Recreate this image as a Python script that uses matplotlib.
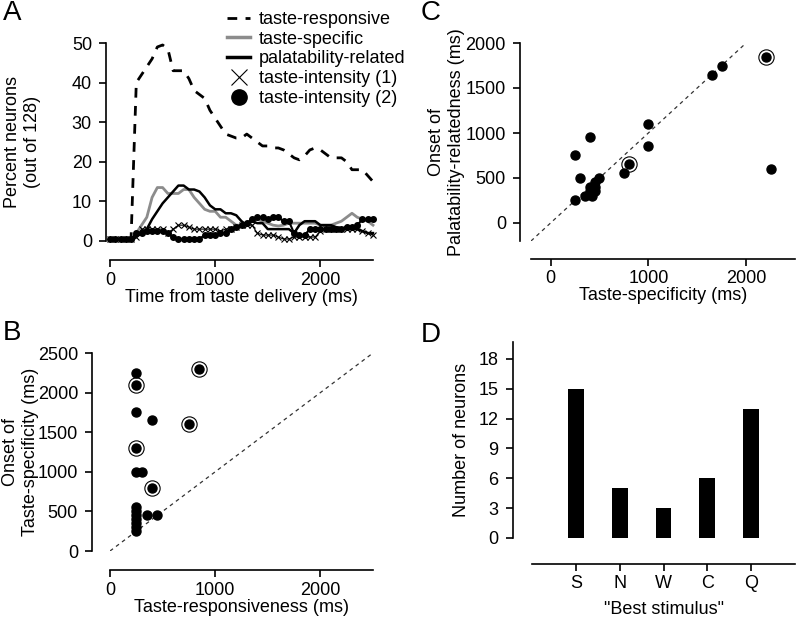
import matplotlib
matplotlib.use('Agg')
import matplotlib.pyplot as plt
from matplotlib.lines import Line2D

plt.rcParams['font.family'] = ['Liberation Sans', 'DejaVu Sans']
plt.rcParams['font.size'] = 13

# ---- panel A: time courses (50 ms bins) ----
t = list(range(0, 2550, 50))
responsive = [0.5, 0.5, 0.5, 0.5, 0.5, 40, 42, 44, 46, 49, 49.5, 48.5, 43, 43, 43, 41, 38, 37,
              36, 33, 31, 29, 27, 26.5, 26, 26, 27, 26, 25, 24, 24, 23.5, 23.5, 23, 22, 21,
              20.5, 21.5, 23, 23.5, 23, 22, 21, 21, 21, 20, 18, 18, 18, 16.5, 15]
specific = [0.5, 0.5, 0.5, 0.5, 0.5, 2, 4, 6, 11, 13.5, 13.5, 12, 12, 12, 13, 13, 11, 9.5,
            8, 7.5, 7.5, 6, 6, 5, 4, 4, 4.5, 5, 5.5, 5, 4.5, 4, 3.8, 4, 4.5, 4.5,
            4.5, 4.5, 4.5, 4.5, 4, 4, 4, 4.5, 5, 6, 7, 6, 5.5, 5, 4]
palatable = [0.5, 0.5, 0.5, 0.5, 0.5, 1, 2, 3, 5.5, 7.5, 9.5, 11, 12.5, 14, 14, 13, 13, 12.5,
             11, 9, 8, 8, 7, 7, 6.5, 5, 4, 5, 4.5, 4.5, 3, 3, 3, 3, 3, 2,
             4, 5, 5, 5, 4, 4, 4, 3.5, 3, 3, 3, 3, 2.5, 2, 2]
intensity1 = [0.5, 0.5, 0.5, 0.5, 0.5, 1, 3, 3, 3, 3, 3, 2, 3, 4, 4, 3.5, 3, 3,
              3, 3, 3, 2.5, 3, 3, 3.5, 4, 4, 4, 2, 1.5, 1.5, 1.5, 1, 0.5, 0.5, 1,
              1, 1, 1, 1, 2.5, 3, 3, 3, 3, 3, 3, 3, 2.5, 2, 1.5]
intensity2 = [0.5, 0.5, 0.5, 0.5, 0.5, 2, 2, 2.5, 2.5, 2.5, 2.5, 2, 1, 0.5, 0.5, 0.5, 0.5, 0.5,
              1.5, 1.5, 1.5, 2, 2, 3, 3.5, 4, 4.5, 5.5, 6, 6, 5.5, 6, 6, 5, 5, 2,
              1.5, 1.5, 3, 3, 3, 3, 3, 3, 3, 3.5, 3.5, 4, 5.5, 5.5, 5.5]

# ---- panel B: taste-responsiveness vs taste-specificity onsets (ms) ----
b_x = [250, 250, 250, 250, 250, 250, 250, 250, 250, 250, 300, 350, 450, 400]
b_y = [2250, 1750, 1000, 500, 450, 400, 350, 300, 250, 550, 1000, 450, 450, 1650]
b_ring_x = [250, 850, 750, 250, 400]
b_ring_y = [2100, 2300, 1600, 1300, 800]

# ---- panel C: taste-specificity vs palatability-relatedness onsets (ms) ----
c_x = [1750, 1650, 1000, 400, 1000, 250, 750, 2250, 300, 500, 450, 400, 450, 350, 420, 250, 450, 400]
c_y = [1750, 1650, 1100, 950, 850, 750, 550, 600, 500, 500, 450, 400, 350, 300, 300, 250, 400, 350]
c_ring_x = [2200, 800]
c_ring_y = [1850, 650]

# ---- panel D: best stimulus counts ----
stimuli = ['S', 'N', 'W', 'C', 'Q']
counts = [15, 5, 3, 6, 13]

W, H = 800, 621
fig = plt.figure(figsize=(W / 100, H / 100), dpi=100)


def add_ax(x0, x1, ytop, ybot):
    return fig.add_axes([x0 / W, 1 - ybot / H, (x1 - x0) / W, (ybot - ytop) / H])


def style(ax, left_off, bottom_off, ylab_x):
    ax.spines['top'].set_visible(False)
    ax.spines['right'].set_visible(False)
    ax.spines['left'].set_position(('outward', left_off))
    ax.spines['bottom'].set_position(('outward', bottom_off))
    for s in ('left', 'bottom'):
        ax.spines[s].set_linewidth(1.2)
    ax.tick_params(width=1.2, length=5, labelsize=13)
    ax.tick_params(axis='x', pad=3)
    ax.tick_params(axis='y', pad=5)
    ax.patch.set_visible(False)
    pos = ax.get_position()
    ax.yaxis.set_label_coords(ylab_x / W, (pos.y0 + pos.y1) / 2, transform=fig.transFigure)


# panel A
axA = add_ax(110, 373, 43, 241)
axA.plot(t, responsive, color='k', lw=2, ls=(0, (3.5, 3)), clip_on=False)
axA.plot(t, specific, color='#8c8c8c', lw=2, clip_on=False)
axA.plot(t, palatable, color='k', lw=1.8, clip_on=False)
axA.plot(t, intensity1, color='k', lw=0.8, marker='x', ms=4, mew=0.8, clip_on=False)
axA.plot(t, intensity2, color='k', lw=1.5, marker='o', ms=4, clip_on=False)
axA.set_xlim(0, 2500)
axA.set_ylim(0, 50)
axA.set_xticks([0, 1000, 2000])
axA.set_yticks([0, 10, 20, 30, 40, 50])
axA.set_xlabel('Time from taste delivery (ms)', labelpad=0)
axA.set_ylabel('Percent neurons\n(out of 128)', linespacing=1.25)
style(axA, 3, 14, 41)

handles = [
    Line2D([], [], color='k', lw=2, ls=(0, (3.5, 3))),
    Line2D([], [], color='#8c8c8c', lw=2.5),
    Line2D([], [], color='k', lw=2.5),
    Line2D([], [], color='k', ls='none', marker='x', ms=11, mew=0.8),
    Line2D([], [], color='k', ls='none', marker='o', ms=11),
]
labels = ['taste-responsive', 'taste-specific', 'palatability-related',
          'taste-intensity (1)', 'taste-intensity (2)']
fig.legend(handles, labels, loc='upper left', bbox_to_anchor=(227 / W, 1 - 11 / H),
           frameon=False, handlelength=1.3, handletextpad=0.45, labelspacing=0.15,
           borderpad=0, borderaxespad=0, fontsize=13)

# panel B
axB = add_ax(110, 373, 353, 551)
axB.plot([0, 2500], [0, 2500], color='#333333', lw=0.9, ls=(0, (3, 3)))
axB.plot(b_ring_x, b_ring_y, ls='none', marker='o', ms=11, mfc='none', mec='k', mew=0.8)
axB.plot(b_x + b_ring_x, b_y + b_ring_y, ls='none', marker='o', ms=6.5, color='k')
axB.set_xlim(0, 2500)
axB.set_ylim(0, 2500)
axB.set_xticks([0, 1000, 2000])
axB.set_yticks([0, 500, 1000, 1500, 2000, 2500])
axB.set_xlabel('Taste-responsiveness (ms)', labelpad=0)
axB.set_ylabel('Onset of\nTaste-specificity (ms)', linespacing=1.25)
style(axB, 13, 14, 39)

# panel C
axC = add_ax(531, 795, 43, 241)
axC.plot([-200, 2000], [-200, 2000], color='#333333', lw=0.9, ls=(0, (3, 3)))
axC.plot(c_ring_x, c_ring_y, ls='none', marker='o', ms=11, mfc='none', mec='k', mew=0.8)
axC.plot(c_x + c_ring_x, c_y + c_ring_y, ls='none', marker='o', ms=6.5, color='k')
axC.set_xlim(-200, 2500)
axC.set_ylim(-200, 2000)
axC.set_xticks([0, 1000, 2000])
axC.set_yticks([0, 500, 1000, 1500, 2000])
axC.set_xlabel('Taste-specificity (ms)', labelpad=0)
axC.set_ylabel('Onset of\nPalatability-relatedness (ms)', linespacing=1.25)
style(axC, 8, 13, 465)

# panel D
axD = add_ax(532, 795, 342, 538)
axD.bar(range(len(stimuli)), counts, width=0.36, color='k')
axD.set_xlim(-1, 5)
axD.set_ylim(0, 19.7)
axD.set_xticks(range(len(stimuli)))
axD.set_xticklabels(stimuli)
axD.set_yticks([0, 3, 6, 9, 12, 15, 18])
axD.set_xlabel('"Best stimulus"', labelpad=6)
axD.set_ylabel('Number of neurons')
style(axD, 14, 19, 470)

for letter, x, y in [('A', 3, 0), ('C', 421, 0), ('B', 3, 320), ('D', 421, 322)]:
    fig.text(x / W, 1 - y / H, letter, fontsize=20, va='top', ha='left')

fig.savefig('out.png', dpi=100)
